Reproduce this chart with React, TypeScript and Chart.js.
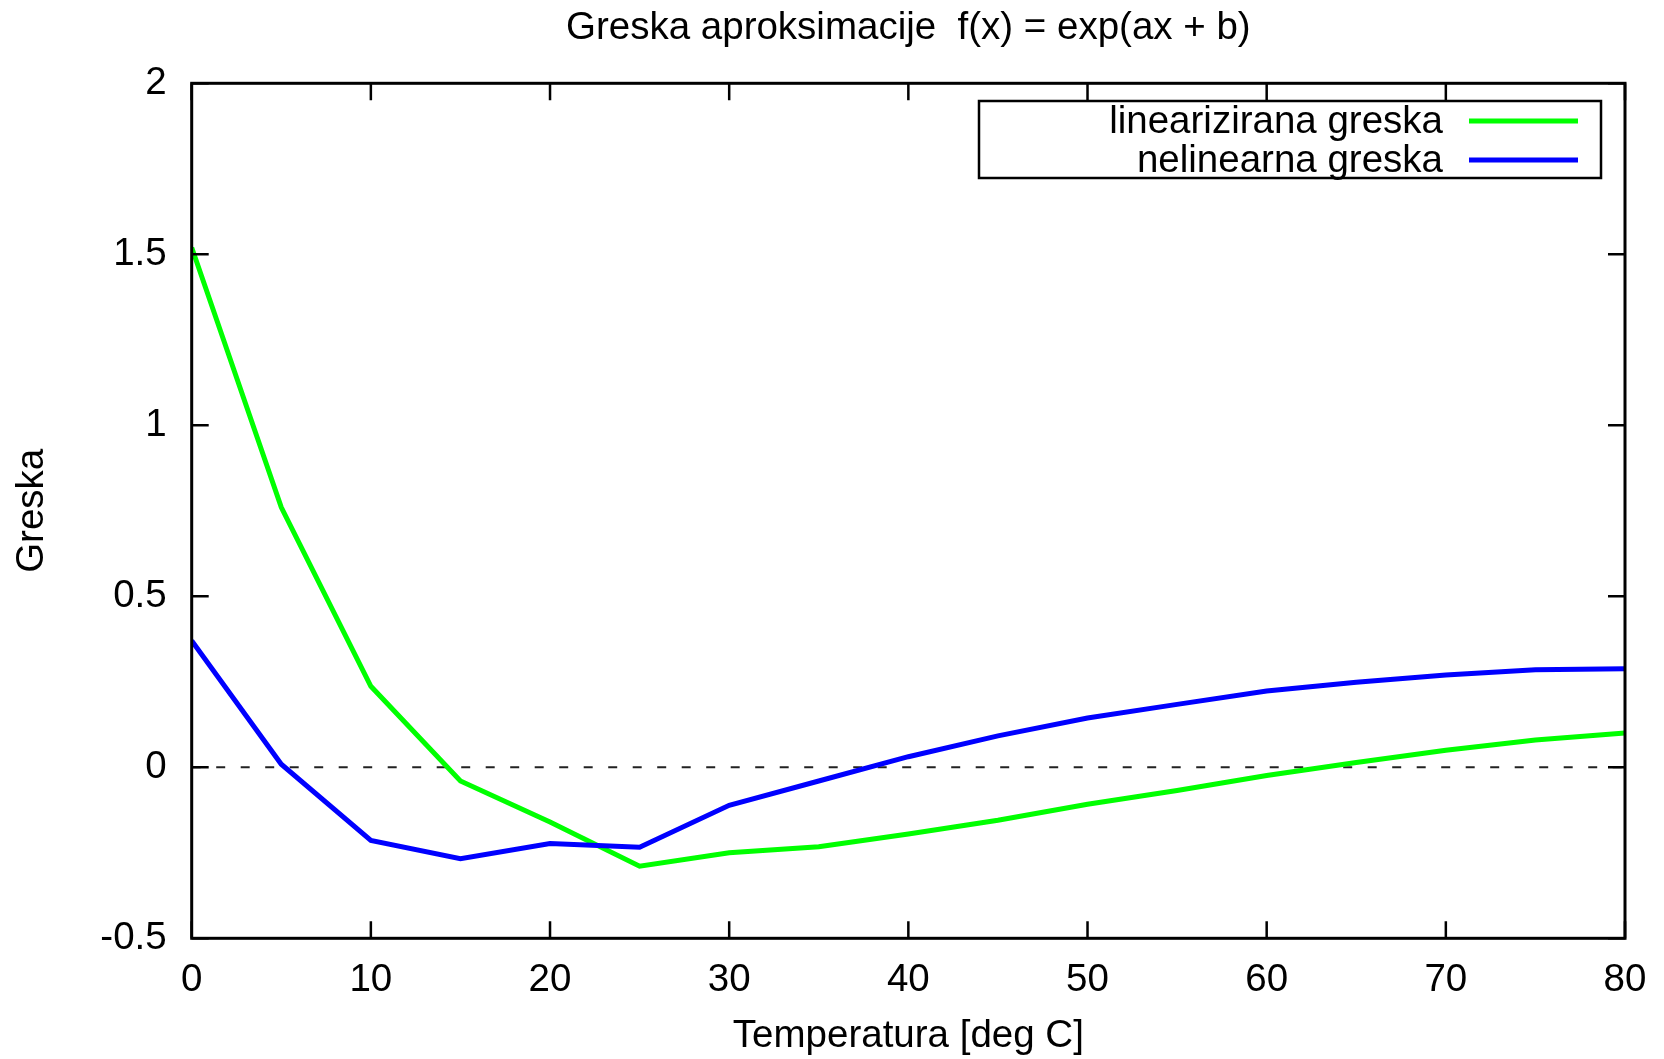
import React, { useEffect, useRef } from "react";
import { Chart, registerables } from "chart.js";

Chart.register(...registerables);

const xs = [0, 5, 10, 15, 20, 25, 30, 35, 40, 45, 50, 55, 60, 65, 70, 75, 80];
const linearizedError = [1.52, 0.76, 0.237, -0.04, -0.16, -0.289, -0.25, -0.232, -0.195, -0.155, -0.108, -0.068, -0.024, 0.014, 0.05, 0.08, 0.1];
const nonlinearError = [0.37, 0.009, -0.214, -0.267, -0.223, -0.234, -0.111, -0.04, 0.031, 0.092, 0.144, 0.184, 0.223, 0.249, 0.27, 0.285, 0.288];
const zeroLineX = [0, 80];
const zeroLineY = [0, 0];
const xTicks = [0, 10, 20, 30, 40, 50, 60, 70, 80];
const yTicks = [-0.5, 0, 0.5, 1, 1.5, 2];
const seriesLabels = ["linearizirana greska", "nelinearna greska"];
const titleText = "Greska aproksimacije  f(x) = exp(ax + b)";
const xTitle = "Temperatura [deg C]";
const yTitle = "Greska";

const FONT = "'Liberation Sans', Arial, Helvetica, sans-serif";
const FS = 38.5;
const W = 1664;
const H = 1059;

const frameAndTicks = {
  id: "frameAndTicks",
  afterDatasetsDraw(chart: any) {
    const { ctx, chartArea: a, scales } = chart;
    const xS = scales.x;
    const yS = scales.y;
    const tl = 17;
    ctx.save();
    ctx.strokeStyle = "#000";
    ctx.lineWidth = 2.5;
    ctx.lineCap = "butt";
    ctx.beginPath();
    for (const t of xS.ticks) {
      const px = xS.getPixelForValue(t.value);
      ctx.moveTo(px, a.bottom);
      ctx.lineTo(px, a.bottom - tl);
      ctx.moveTo(px, a.top);
      ctx.lineTo(px, a.top + tl);
    }
    for (const t of yS.ticks) {
      const py = yS.getPixelForValue(t.value);
      ctx.moveTo(a.left, py);
      ctx.lineTo(a.left + tl, py);
      ctx.moveTo(a.right, py);
      ctx.lineTo(a.right - tl, py);
    }
    ctx.stroke();
    ctx.lineWidth = 3;
    ctx.strokeRect(a.left, a.top, a.right - a.left, a.bottom - a.top);
    ctx.restore();
  },
};

const gnuLegend = {
  id: "gnuLegend",
  afterDraw(chart: any) {
    const { ctx } = chart;
    const box = { l: 979, t: 101, r: 1601, b: 178 };
    const rows = [122, 161];
    ctx.save();
    ctx.fillStyle = "#fff";
    ctx.fillRect(box.l, box.t, box.r - box.l, box.b - box.t);
    ctx.strokeStyle = "#000";
    ctx.lineWidth = 2.5;
    ctx.strokeRect(box.l, box.t, box.r - box.l, box.b - box.t);
    ctx.font = `${FS}px ${FONT}`;
    ctx.textAlign = "right";
    ctx.textBaseline = "middle";
    ctx.fillStyle = "#000";
    const ds = chart.data.datasets.filter((d: any) => seriesLabels.includes(d.label));
    ds.forEach((d: any, i: number) => {
      ctx.fillText(d.label, 1443, rows[i]);
      ctx.strokeStyle = d.borderColor;
      ctx.lineWidth = 5;
      ctx.beginPath();
      ctx.moveTo(1469, rows[i] - 1);
      ctx.lineTo(1578, rows[i] - 1);
      ctx.stroke();
    });
    ctx.restore();
  },
};

export default function App() {
  const ref = useRef<HTMLCanvasElement | null>(null);
  useEffect(() => {
    document.body.style.margin = "0";
    const canvas = ref.current;
    if (!canvas) return;
    const chart = new Chart(canvas, {
      type: "line",
      data: {
        datasets: [
          {
            label: seriesLabels[0],
            data: xs.map((x, i) => ({ x, y: linearizedError[i] })),
            borderColor: "#00ff00",
            borderWidth: 5,
            pointRadius: 0,
            tension: 0,
            fill: false,
            order: 2,
          },
          {
            label: seriesLabels[1],
            data: xs.map((x, i) => ({ x, y: nonlinearError[i] })),
            borderColor: "#0000ff",
            borderWidth: 5,
            pointRadius: 0,
            tension: 0,
            fill: false,
            order: 1,
          },
          {
            label: "zero",
            data: zeroLineX.map((x, i) => ({ x, y: zeroLineY[i] })),
            borderColor: "#222",
            borderWidth: 2,
            borderDash: [9, 15.5],
            pointRadius: 0,
            fill: false,
            order: 3,
          },
        ],
      },
      options: {
        responsive: false,
        animation: false,
        devicePixelRatio: 1,
        layout: { padding: { left: 0, right: 39, top: 0, bottom: 0 } },
        plugins: {
          legend: { display: false },
          tooltip: { enabled: false },
          title: {
            display: true,
            fullSize: false,
            text: titleText,
            color: "#000",
            font: { family: FONT, size: FS, weight: "normal", lineHeight: 1.2 },
            padding: { top: 5.4, bottom: 31.7 },
          },
        },
        scales: {
          x: {
            type: "linear",
            min: 0,
            max: 80,
            afterBuildTicks: (s: any) => {
              s.ticks = xTicks.map((v) => ({ value: v }));
            },
            afterFit: (s: any) => {
              s.height = H - 938.3;
              s.paddingLeft = 0;
              s.paddingRight = 0;
            },
            ticks: {
              color: "#000",
              font: { family: FONT, size: FS, lineHeight: 1.2 },
              padding: 18.6,
              maxRotation: 0,
              autoSkip: false,
              callback: (v: any) => String(v),
            },
            grid: { display: false, drawTicks: false },
            border: { display: false },
            title: {
              display: true,
              text: xTitle,
              color: "#000",
              font: { family: FONT, size: FS, lineHeight: 1.2 },
              padding: { top: 0, bottom: 0 },
            },
          },
          y: {
            type: "linear",
            min: -0.5,
            max: 2,
            afterBuildTicks: (s: any) => {
              s.ticks = yTicks.map((v) => ({ value: v }));
            },
            afterFit: (s: any) => {
              s.width = 191.7;
              s.paddingTop = 0;
              s.paddingBottom = 0;
            },
            ticks: {
              color: "#000",
              font: { family: FONT, size: FS, lineHeight: 1.2 },
              padding: 25,
              autoSkip: false,
              callback: (v: any) => String(v),
            },
            grid: { display: false, drawTicks: false },
            border: { display: false },
            title: {
              display: true,
              text: yTitle,
              color: "#000",
              font: { family: FONT, size: FS, lineHeight: 1.2 },
              padding: { top: 9, bottom: 0 },
            },
          },
        },
      },
      plugins: [frameAndTicks, gnuLegend],
    });
    return () => chart.destroy();
  }, []);
  return (
    <div style={{ position: "absolute", left: 0, top: 0, width: W, height: H, background: "#fff" }}>
      <canvas ref={ref} width={W} height={H} style={{ width: W, height: H, display: "block" }} />
    </div>
  );
}
